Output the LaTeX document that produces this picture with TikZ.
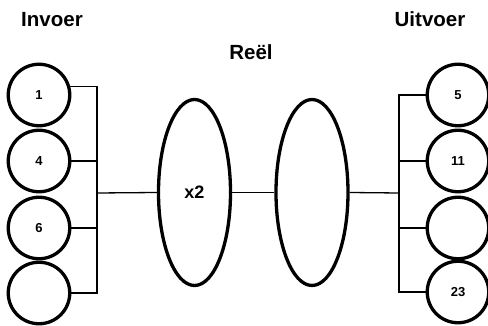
\documentclass[tikz,border=0pt]{standalone}
\usepackage{fontspec}
\setmainfont{Liberation Sans}
\usepackage{tikz}
\usetikzlibrary{shapes.geometric,calc}

\begin{document}
\begin{tikzpicture}[x=1pt, y=-1pt, auto,
  neuron/.style={draw, circle, line width=3.3pt, minimum size=61.5pt, inner sep=0pt, font=\fontsize{13}{13}\selectfont\bfseries},
  hidden/.style={draw, ellipse, line width=3.3pt, minimum width=72pt, minimum height=186pt, inner sep=0pt, font=\fontsize{18}{18}\selectfont\bfseries},
  title/.style={font=\fontsize{20.5}{20.5}\selectfont\bfseries},
  wire/.style={line width=1.3pt}]

\useasboundingbox (0,0) rectangle (488,326);

 % titels
\node[title] (tin) at (52,20) {Invoer};
\node[title] (thid) at (251,52) {Reël};
\node[title] (tout) at (430,19) {Uitvoer};

 % invoerlaag
\node[neuron] (in1) at (39,95) {1};
\node[neuron] (in2) at (39,161) {4};
\node[neuron] (in3) at (39,228) {6};
\node[neuron] (in4) at (39,293) {};

 % verborgen laag
\node[hidden] (hid1) at (194.5,192.5) {x2};
\node[hidden] (hid2) at (312,192.5) {};

 % uitvoerlaag
\node[neuron] (out1) at (458,95) {5};
\node[neuron] (out2) at (458,161) {11};
\node[neuron] (out3) at (458,228) {};
\node[neuron] (out4) at (458,292) {23};

\coordinate (lbar) at (97,193);
\coordinate (rbar) at (399,193);

\draw[wire] (in1.15) -- (in1.15 -| lbar) -- (in4.east -| lbar) -- (in4.east);
\draw[wire] (in2.east) -- (in2.east -| lbar);
\draw[wire] (in3.east) -- (in3.east -| lbar);
\draw[wire] (lbar) -- (hid1.west);

\draw[wire] (hid1.east) -- (hid2.west);
\draw[wire] (hid2.east) -- (rbar);

\draw[wire] (out1.west) -- (out1.west -| rbar) -- (out4.west -| rbar) -- (out4.west);
\draw[wire] (out2.west) -- (out2.west -| rbar);
\draw[wire] (out3.west) -- (out3.west -| rbar);

\end{tikzpicture}
\end{document}
